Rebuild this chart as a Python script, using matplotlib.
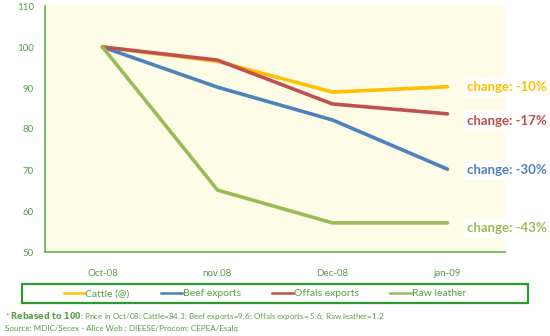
import matplotlib
matplotlib.use("Agg")
import matplotlib.pyplot as plt
from matplotlib.lines import Line2D
from matplotlib.patches import Rectangle

plt.rcParams["font.family"] = ["Lato", "DejaVu Sans"]

months = ["Oct-08", "nov.08", "Dec-08", "jan-09"]
series_names = ["Cattle (@)", "Beef exports", "Offals exports", "Raw leather"]
cattle = [100, 96.5, 89.0, 90.3]
beef = [100, 90.2, 82.2, 70.2]
offals = [100, 96.8, 86.1, 83.7]
leather = [100, 65.1, 57.1, 57.1]
changes = ["change: -10%", "change: -17%", "change: -30%", "change: -43%"]
label_y = [90.3, 82.0, 70.0, 55.9]

colors = ["#FFC000", "#4F81BD", "#C0504D", "#9BBB59"]
label_colors = ["#FFC000", "#C0504D", "#4F81BD", "#9BBB59"]
green = "#5A9E4A"

W, H = 550, 336
fig = plt.figure(figsize=(W / 100, H / 100), dpi=100)
ax = fig.add_axes([45 / W, (H - 252) / H, 460 / W, 246 / H])
ax.set_facecolor("#FEFCE6")

x = range(len(months))
handles = []
for vals, c, name in zip([cattle, beef, offals, leather], colors, series_names):
    ax.plot(x, vals, color=c, lw=2.6, solid_capstyle="round", solid_joinstyle="round", label=name)
    handles.append(Line2D([], [], color=c, lw=1.8))

ax.set_xlim(-0.5, 3.5)
ax.set_ylim(50, 110)
ax.set_yticks(range(50, 111, 10))
ax.set_xticks(list(x))
ax.set_xticklabels(months)
ax.tick_params(length=0, colors=green, labelsize=7)
ax.tick_params(axis="x", pad=12)
ax.tick_params(axis="y", pad=8)
for s in ["top", "right"]:
    ax.spines[s].set_visible(False)
for s in ["left", "bottom"]:
    ax.spines[s].set_color("#5DB14E")
    ax.spines[s].set_linewidth(1.2)

for txt, yv, c in zip(changes, label_y, label_colors):
    ax.annotate(txt, xy=(1.0, yv), xycoords=("axes fraction", "data"),
                xytext=(-27, 0), textcoords="offset points",
                ha="left", va="center", fontsize=9.5, fontweight="bold", color=c,
                bbox=dict(boxstyle="square,pad=0.3", fc="white", ec="none"),
                annotation_clip=False)

# legend with a wide hand-drawn frame
fig.patches.append(Rectangle((22 / W, (H - 303) / H), 506 / W, 19 / H, transform=fig.transFigure,
                             fill=False, ec="#2E9A2E", lw=1.6))
leg = fig.legend(handles, series_names, ncol=4, loc="center",
                 bbox_to_anchor=(265 / W, (H - 293.5) / H),
                 fontsize=7.5, handlelength=2.0, handletextpad=0.1, columnspacing=3.0,
                 borderpad=0.35, borderaxespad=0, frameon=False)
for t in leg.get_texts():
    t.set_color(green)

fig.text(5 / W, (H - 316) / H,
         r"* $\bf{Rebased\ to\ 100}$: Price in Oct/08: Cattle=84.3; Beef exports=9.6; Offals exports= 5.6; Raw leather=1.2",
         fontsize=5.8, color=green, va="center")
fig.text(5 / W, (H - 328) / H, "Source: MDIC/Secex - Alice Web ; DIEESE/Procom; CEPEA/Esalq",
         fontsize=5.8, color=green, va="center")

fig.savefig("out.png", dpi=100)
